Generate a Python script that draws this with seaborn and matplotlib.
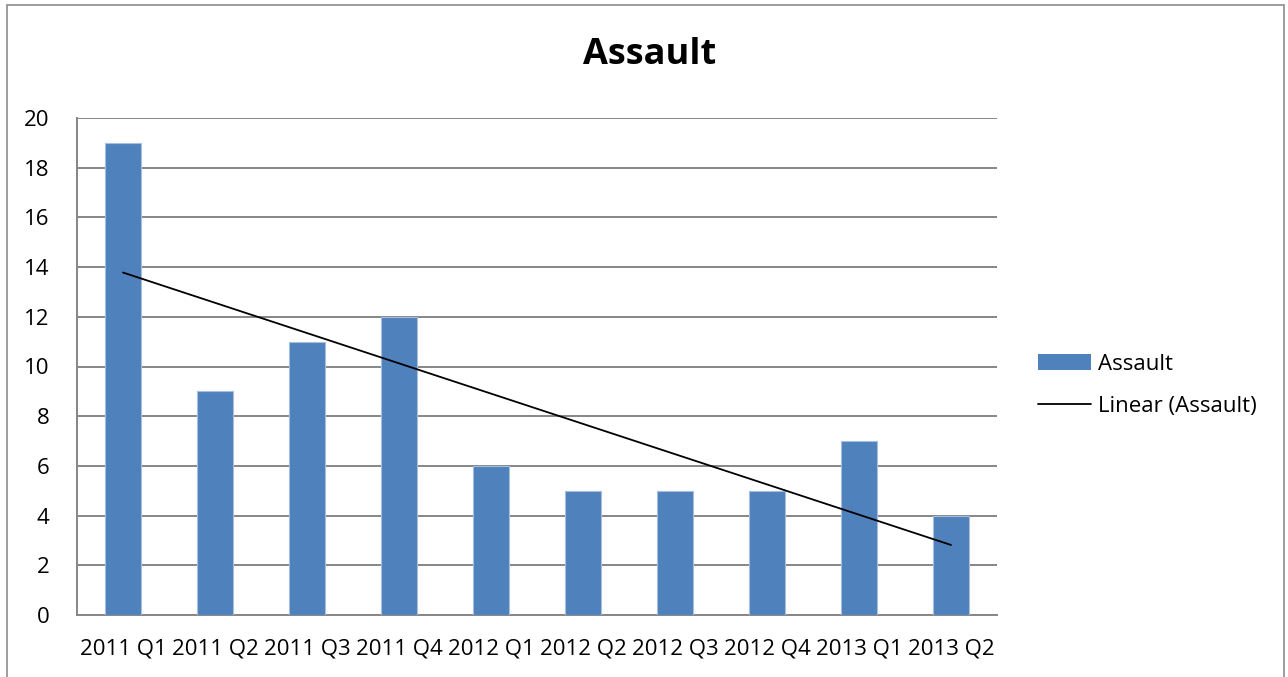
"""Assault bar chart with linear trend line."""

import matplotlib
matplotlib.use("Agg")
import matplotlib.pyplot as plt
from matplotlib.patches import Rectangle, Patch
from matplotlib.lines import Line2D
import numpy as np
import pandas as pd
import seaborn as sns

quarters = ["2011 Q1", "2011 Q2", "2011 Q3", "2011 Q4", "2012 Q1",
            "2012 Q2", "2012 Q3", "2012 Q4", "2013 Q1", "2013 Q2"]
assault = [19, 9, 11, 12, 6, 5, 5, 5, 7, 4]

BAR = "#4F81BD"
GRID = "#868686"
FS = 16

sns.set_style("white")
plt.rcParams["font.family"] = ["Open Sans", "DejaVu Sans"]
plt.rcParams["text.color"] = "black"

df = pd.DataFrame({"quarter": quarters, "assault": assault})

fig = plt.figure(figsize=(12.88, 6.77), dpi=100)
ax = fig.add_axes([77 / 1288, 1 - 615 / 677, (997 - 77) / 1288, (615 - 118) / 677])

sns.barplot(data=df, x="quarter", y="assault", color=BAR, width=0.4,
            saturation=1, edgecolor="#A7BFDE", linewidth=0.8, ax=ax, zorder=3)

# linear trend, same as Excel's trendline
pos = np.arange(len(assault))
slope, icpt = np.polyfit(pos + 1, assault, 1)
trend = pd.DataFrame({"x": pos, "y": slope * (pos + 1) + icpt})
sns.lineplot(data=trend, x="x", y="y", color="black", linewidth=1.3, ax=ax, zorder=4)

ax.set_xlim(-0.5, len(quarters) - 0.5)
ax.set_ylim(0, 20)
ax.set_yticks(range(0, 21, 2))
ax.set_xlabel("")
ax.set_ylabel("")
ax.grid(axis="y", color=GRID, linewidth=1.4, zorder=0)
ax.set_axisbelow(True)

for side in ["top", "right"]:
    ax.spines[side].set_visible(False)
for side in ["left", "bottom"]:
    ax.spines[side].set_color(GRID)
    ax.spines[side].set_linewidth(1.4)

ax.set_xticks(np.arange(-0.5, len(quarters)), minor=True)
ax.tick_params(axis="x", which="major", length=0, pad=17, labelsize=FS, labelcolor="black")
ax.tick_params(axis="x", which="minor", length=8, width=1.4, color=GRID)
ax.tick_params(axis="y", length=8, width=1.4, color=GRID, labelsize=FS, pad=12,
               labelcolor="black")

fig.text(650 / 1288, 1 - 64 / 677, "Assault", ha="center", va="baseline",
         fontsize=26, fontweight="bold", color="black")

handles = [Patch(facecolor=BAR, edgecolor="none"),
           Line2D([0], [0], color="black", linewidth=1.3)]
leg = fig.legend(handles, ["Assault", "Linear (Assault)"], loc="upper left",
                 bbox_to_anchor=(1018 / 1288, 1 - 334 / 677), frameon=False,
                 fontsize=FS, handlelength=2.4, handletextpad=0.3, labelspacing=0.95)
for t in leg.get_texts():
    t.set_color("black")

# chart border
fig.patches.append(Rectangle((7 / 1288, -0.01), (1284 - 7) / 1288, 1 - 5 / 677 + 0.01,
                             transform=fig.transFigure, fill=False,
                             edgecolor="#8C8C8C", linewidth=1.2))

fig.savefig("out.png", dpi=100)
